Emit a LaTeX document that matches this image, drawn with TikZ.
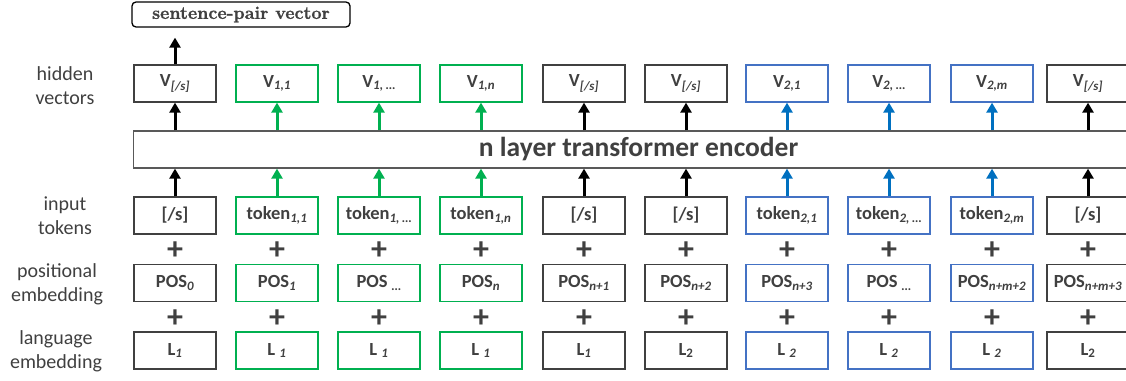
\documentclass[tikz,border=0pt]{standalone}
\usepackage{fontspec}
\setmainfont{Carlito}
\newfontfamily\lmbold[FakeBold=1.2]{Latin Modern Roman}
\usetikzlibrary{arrows.meta,positioning}
\definecolor{txtgray}{HTML}{404040}
\definecolor{boxblk}{HTML}{404040}
\definecolor{boxgrn}{HTML}{00B050}
\definecolor{boxblu}{HTML}{4472C4}
\definecolor{arrblu}{HTML}{0070C0}
\definecolor{encgray}{HTML}{595959}
\newcommand{\subit}[1]{\textsubscript{\itshape #1}}
\tikzset{
  box/.style={draw=#1, line width=1.3pt, minimum width=82pt, minimum height=37pt,
    inner sep=0pt, text=txtgray, font=\fontsize{18.5}{20}\selectfont\bfseries},
  up/.style={draw=#1, line width=3pt, -{Triangle[width=11pt,length=10pt]}},
  lbl/.style={align=center, text=txtgray, font=\fontsize{20}{24}\selectfont},
  plus/.style={text=txtgray, font=\fontsize{32}{32}\selectfont\bfseries},
}

\begin{document}
\begin{tikzpicture}[x=1pt,y=-1pt]
\useasboundingbox (0,0) rectangle (1126,380);
\node[lbl] (lh) at (65,86) {hidden\\vectors};
\node[lbl] (li) at (65,216) {input\\tokens};
\node[lbl] (lp) at (57,284) {positional\\embedding};
\node[lbl] (ll) at (56,351) {language\\embedding};
\node[draw=encgray, line width=1.3pt, minimum width=1010pt, minimum height=37pt, anchor=west,
  text=txtgray, font=\fontsize{27.5}{30}\selectfont\bfseries] (enc) at (133,149.5) {n layer transformer encoder};
\node[draw=black, rounded corners=4pt, line width=1.3pt, minimum width=218pt, minimum height=25pt,
  inner sep=0pt, text=txtgray, font=\fontsize{18}{20}\selectfont\lmbold\bfseries] (sent) at (241,14.5) {sentence-pair vector};
\foreach \i/\x/\c/\a/\tok/\pos/\lang/\vec in {
  1/175/boxblk/black/{[/s]}/{POS\subit{0}}/{L\subit{1}}/{V\subit{[/s]}},
  2/277/boxgrn/boxgrn/{token\subit{1,1}}/{POS\subit{1}}/{L \subit{1}}/{V\subit{1,1}},
  3/379/boxgrn/boxgrn/{token\subit{1, \dots}}/{POS \subit{\dots}}/{L \subit{1}}/{V\subit{1, \dots}},
  4/481/boxgrn/boxgrn/{token\subit{1,n}}/{POS\subit{n}}/{L \subit{1}}/{V\subit{1,n}},
  5/584/boxblk/black/{[/s]}/{POS\subit{n+1}}/{L\subit{1}}/{V\subit{[/s]}},
  6/686/boxblk/black/{[/s]}/{POS\subit{n+2}}/{L\textsubscript{2}}/{V\subit{[/s]}},
  7/787/boxblu/arrblu/{token\subit{2,1}}/{POS\subit{n+3}}/{L \subit{2}}/{V\subit{2,1}},
  8/889/boxblu/arrblu/{token\subit{2, \dots}}/{POS \subit{\dots}}/{L \subit{2}}/{V\subit{2, \dots}},
  9/992/boxblu/arrblu/{token\subit{2,m}}/{POS\subit{n+m+2}}/{L \subit{2}}/{V\subit{2,m}},
  10/1088/boxblk/black/{[/s]}/{POS\subit{n+m+3}}/{L\textsubscript{2}}/{V\subit{[/s]}}}
{
  \node[box=\c] (h\i) at (\x,83.5) {\vec};
  \node[box=\c] (t\i) at (\x,215.5) {\tok};
  \node[plus] (a\i) at (\x,251) {+};
  \node[box=\c] (p\i) at (\x,283) {\pos};
  \node[plus] (b\i) at (\x,319) {+};
  \node[box=\c] (l\i) at (\x,350.5) {\lang};
  \draw[up=\a] (h\i.south |- enc.north) -- (h\i.south);
  \draw[up=\a] (t\i.north) -- (t\i.north |- enc.south);
}
%\draw (h1.north) -- (sent.south);
\draw[up=black, shorten >=10pt] (h1.north) -- (h1.north |- sent.south);
\end{tikzpicture}
\end{document}
